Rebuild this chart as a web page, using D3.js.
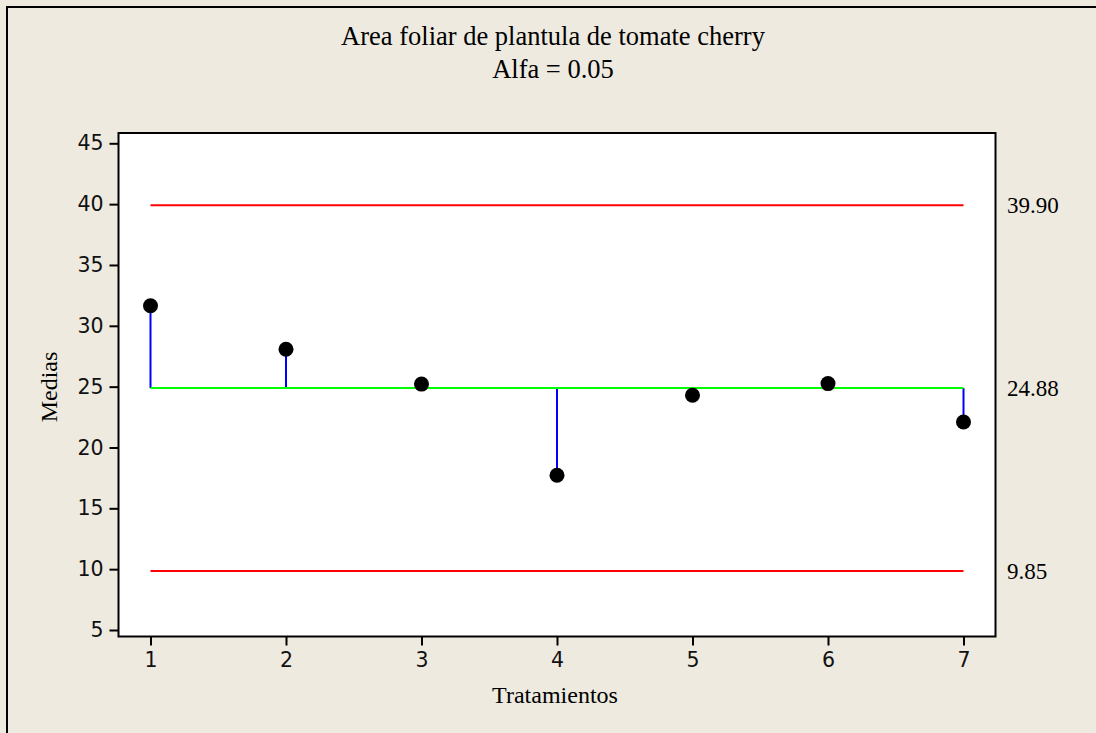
<!DOCTYPE html>
<html>
<head>
<meta charset="utf-8">
<script src="https://cdn.jsdelivr.net/npm/d3@7/dist/d3.min.js"></script>
<style>
  html, body { margin: 0; padding: 0; background: #EEEAE0; overflow: hidden; }
  svg { display: block; }
</style>
</head>
<body>
<svg id="chart" width="1096" height="733"></svg>
<script>
// Treatment means for leaf area (ANOM chart)
const treatments = [1, 2, 3, 4, 5, 6, 7];
const means = [31.65, 28.07, 25.21, 17.72, 24.29, 25.25, 22.09];
const centerLine = 24.88;
const upperLimit = 39.90;
const lowerLimit = 9.85;
const yTicks = [5, 10, 15, 20, 25, 30, 35, 40, 45];
const limitLabels = ["39.90", "24.88", "9.85"];

const svg = d3.select("#chart");
const W = 1096, H = 733;

// page background with left/top border
svg.append("rect").attr("x", 0).attr("y", 0).attr("width", W).attr("height", H).attr("fill", "#EEEAE0");
svg.append("line").attr("x1", 7).attr("x2", 7).attr("y1", 6).attr("y2", H).attr("stroke", "#000").attr("stroke-width", 2);
svg.append("line").attr("x1", 6).attr("x2", W + 5).attr("y1", 7).attr("y2", 7).attr("stroke", "#000").attr("stroke-width", 2);

// plotting frame
const frame = { left: 118.5, right: 995.5, top: 133, bottom: 636.5 };

const x = d3.scaleLinear().domain([1, 7]).range([150.5, 963.5]);
const y = d3.scaleLinear().domain([5, 45]).range([630, 143.3]);

svg.append("rect")
  .attr("x", frame.left).attr("y", frame.top)
  .attr("width", frame.right - frame.left).attr("height", frame.bottom - frame.top)
  .attr("fill", "#fff").attr("stroke", "#000").attr("stroke-width", 2);

// axes
const yAxis = d3.axisLeft(y).tickValues(yTicks).tickSize(9).tickPadding(6).tickFormat(d3.format("d"));
const gy = svg.append("g").attr("transform", `translate(${frame.left},0)`).call(yAxis);
gy.select(".domain").remove();

const xAxis = d3.axisBottom(x).tickValues(treatments).tickSize(9).tickPadding(7).tickFormat(d3.format("d"));
const gx = svg.append("g").attr("transform", `translate(0,${frame.bottom})`).call(xAxis);
gx.select(".domain").remove();

[gx, gy].forEach(g => {
  g.attr("font-size", null).attr("font-family", null);
  g.selectAll(".tick line").attr("stroke", "#000").attr("stroke-width", 2);
  g.selectAll(".tick text")
    .attr("fill", "#111")
    .attr("font-family", "DejaVu Sans, Verdana, sans-serif")
    .attr("font-size", 20.5);
});

const xMin = x(treatments[0]), xMax = x(treatments[treatments.length - 1]);

// decision limits
[upperLimit, lowerLimit].forEach(v => {
  svg.append("line")
    .attr("x1", xMin).attr("x2", xMax)
    .attr("y1", y(v)).attr("y2", y(v))
    .attr("stroke", "#FF0000").attr("stroke-width", 2);
});

// stems from center line to each mean
svg.append("g").selectAll("line")
  .data(treatments)
  .join("line")
  .attr("x1", d => x(d)).attr("x2", d => x(d))
  .attr("y1", y(centerLine))
  .attr("y2", (d, i) => y(means[i]))
  .attr("stroke", "#0000FF").attr("stroke-width", 2);

// center line
svg.append("line")
  .attr("x1", xMin).attr("x2", xMax)
  .attr("y1", y(centerLine)).attr("y2", y(centerLine))
  .attr("stroke", "#00FF00").attr("stroke-width", 2);

// means
svg.append("g").selectAll("circle")
  .data(treatments)
  .join("circle")
  .attr("cx", d => x(d))
  .attr("cy", (d, i) => y(means[i]))
  .attr("r", 7.5)
  .attr("fill", "#000");

// limit labels on the right
const serif = "'Liberation Serif', 'Times New Roman', serif";
[upperLimit, centerLine, lowerLimit].forEach((v, i) => {
  svg.append("text")
    .attr("x", 1007).attr("y", y(v) + 8)
    .attr("fill", "#000")
    .style("font-family", serif).style("font-size", "23px")
    .text(limitLabels[i]);
});

// titles
svg.append("text")
  .attr("x", 553).attr("y", 45).attr("text-anchor", "middle")
  .style("font-family", serif).style("font-size", "26.5px").attr("fill", "#000")
  .text("Area foliar de plantula de tomate cherry");
svg.append("text")
  .attr("x", 553).attr("y", 78).attr("text-anchor", "middle")
  .style("font-family", serif).style("font-size", "26.5px").attr("fill", "#000")
  .text("Alfa = 0.05");

// axis titles
svg.append("text")
  .attr("x", 555).attr("y", 703).attr("text-anchor", "middle")
  .style("font-family", serif).style("font-size", "24px").attr("fill", "#000")
  .text("Tratamientos");
svg.append("text")
  .attr("transform", "translate(57,387) rotate(-90)")
  .attr("text-anchor", "middle")
  .style("font-family", serif).style("font-size", "24px").attr("fill", "#000")
  .text("Medias");
</script>
</body>
</html>
